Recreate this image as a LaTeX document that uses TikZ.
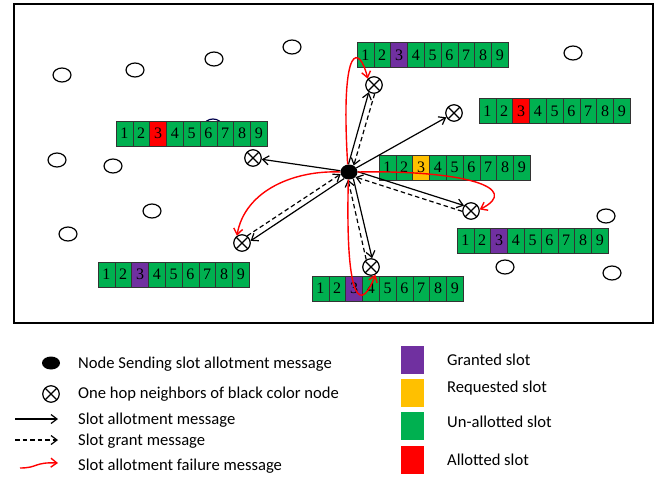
\documentclass[tikz,border=0pt]{standalone}
\usepackage{fontspec}
\setmainfont{Liberation Serif}
\newfontfamily\calfont{Carlito}
\usepackage{tikz}
\usetikzlibrary{positioning, shapes.geometric, arrows.meta}
\usepackage{xcolor}

\definecolor{slotgreen}{HTML}{00B050}
\definecolor{slotpurple}{HTML}{7030A0}
\definecolor{slotyellow}{HTML}{FFC000}
\definecolor{slotred}{HTML}{FF0000}

% nine slots in a row, slot 3 gets colour #4
\newcommand{\slotrow}[4]{%
  \foreach \k in {1,...,9}{%
    \ifnum\k=3 \def\slotcol{#4}\else\def\slotcol{slotgreen}\fi
    \node[cell, fill=\slotcol] (#1-\k) at ({#2+(\k-0.5)*16.8},#3) {\k};
  }%
}

\begin{document}
\begin{tikzpicture}[
    x=1pt, y=-1pt,
    >={Straight Barb[length=6pt, width=9pt]},
    cell/.style={draw=black!80, line width=0.6pt, minimum width=16.8pt, minimum height=24.6pt,
      inner sep=0pt, font=\fontsize{16}{16}\selectfont},
    idle/.style={ellipse, draw, line width=1.2pt, minimum width=18pt, minimum height=14pt, inner sep=0pt},
    src/.style={ellipse, fill, minimum width=17pt, minimum height=15pt, inner sep=0pt},
    nbr/.style={circle, draw, line width=1.2pt, minimum size=16.5pt, inner sep=0pt, fill=white,
      path picture={\draw[line width=1.2pt]
        (path picture bounding box.north west) -- (path picture bounding box.south east)
        (path picture bounding box.north east) -- (path picture bounding box.south west);}},
    msg/.style={->, line width=1.2pt},
    grant/.style={msg, dash pattern=on 4.5pt off 3pt},
    fail/.style={->, draw=red, line width=1.4pt},
    lgtext/.style={anchor=west, inner sep=0pt, font=\calfont\fontsize{16.6}{18}\selectfont},
    key/.style={minimum width=23pt, minimum height=28pt, inner sep=0pt}
]
  \useasboundingbox (0,0) rectangle (668,476);

  % --- FIELD ---
  \draw[line width=1.7pt] (14,4) rectangle (653,323);

  % idle nodes (one sits behind the left slot row)
  \node[idle, draw=black!70!blue] (o0) at (213,126) {};
  \foreach \p [count=\i] in {(62,75), (135,70), (214,59), (292,47), (573,53), (57,160),
      (113,166), (152,211), (68,234), (606,216), (505,267), (612,273)}
    \node[idle] (o\i) at \p {};

  % --- SLOT ROWS ---
  \slotrow{top}{357}{55}{slotpurple}
  \slotrow{ne}{479}{111}{slotred}
  \slotrow{west}{116}{133.5}{slotred}
  \slotrow{mid}{379}{167.5}{slotyellow}
  \slotrow{se}{457}{240.5}{slotpurple}
  \slotrow{sw}{98}{274.5}{slotpurple}
  \slotrow{bot}{312}{288.5}{slotpurple}

  % --- SENDER AND ONE HOP NEIGHBORS ---
  \node[src] (src) at (349,172) {};
  \node[nbr] (n1) at (374,85) {};
  \node[nbr] (n2) at (454,113) {};
  \node[nbr] (n3) at (253,158) {};
  \node[nbr] (n4) at (471,211) {};
  \node[nbr] (n5) at (371,267) {};
  \node[nbr] (n6) at (242,243) {};

  % allotment messages
  \draw[msg] (src.94) -- (n1.234);
  \draw[msg] (src) -- (n2);
  \draw[msg] (src) -- (n3);
  \draw[msg] (src.2) -- (n4.142);
  \draw[msg] (src.303) -- (n5.83);
  \draw[msg] (src.234) -- (n6.14);

  % grant messages
  \draw[grant] (n1.274) -- (src.54);
  \draw[grant] (n4.182) -- (src.322);
  \draw[grant] (n5.123) -- (src.263);
  \draw[grant] (n6.54) -- (src.194);

  % failure messages
  \draw[fail] (src.100) .. controls (340,38) and (360,46) .. (n1.135);
  \draw[fail] (src.180) .. controls (295,170) and (245,190) .. (n6.125);
  \draw[fail] (src.0) .. controls (465,170) and (522,188) .. (n4.10);
  \draw[fail] (src.265) .. controls (345,310) and (362,310) .. (n5.300);

  % --- LEGEND ---
  \node[src, minimum width=18pt, minimum height=13pt] (lg-src) at (51,363) {};
  \node[lgtext] (t-src) at (78,364) {Node Sending slot allotment message};
  \node[nbr] (lg-nbr) at (51,394) {};
  \node[lgtext] (t-nbr) at (78,394) {One hop neighbors of black color node};

  \coordinate (m1) at (15,419);
  \coordinate (m2) at (58,419);
  \draw[msg] (m1) -- (m2);
  \node[lgtext] (t-msg) at (78,420) {Slot allotment message};

  \coordinate (g1) at (15,440);
  \coordinate (g2) at (58,440);
  \draw[grant] (g1) -- (g2);
  \node[lgtext] (t-grant) at (78,441) {Slot grant message};

  \coordinate (f1) at (20,468);
  \coordinate (f2) at (58,463);
  \draw[fail] (f1) .. controls (38,468) and (34,462) .. (f2);
  \node[lgtext] (t-fail) at (78,466) {Slot allotment failure message};

  \node[key, fill=slotpurple] (k1) at (412.5,360) {};
  \node[lgtext] (t-k1) at (447,360) {Granted slot};
  \node[key, fill=slotyellow] (k2) at (412.5,393) {};
  \node[lgtext] (t-k2) at (447,388) {Requested slot};
  \node[key, fill=slotgreen] (k3) at (412.5,426) {};
  \node[lgtext] (t-k3) at (447,422) {Un-allotted slot};
  \node[key, fill=slotred] (k4) at (412.5,460) {};
  \node[lgtext] (t-k4) at (447,460) {Allotted slot};
\end{tikzpicture}
\end{document}
